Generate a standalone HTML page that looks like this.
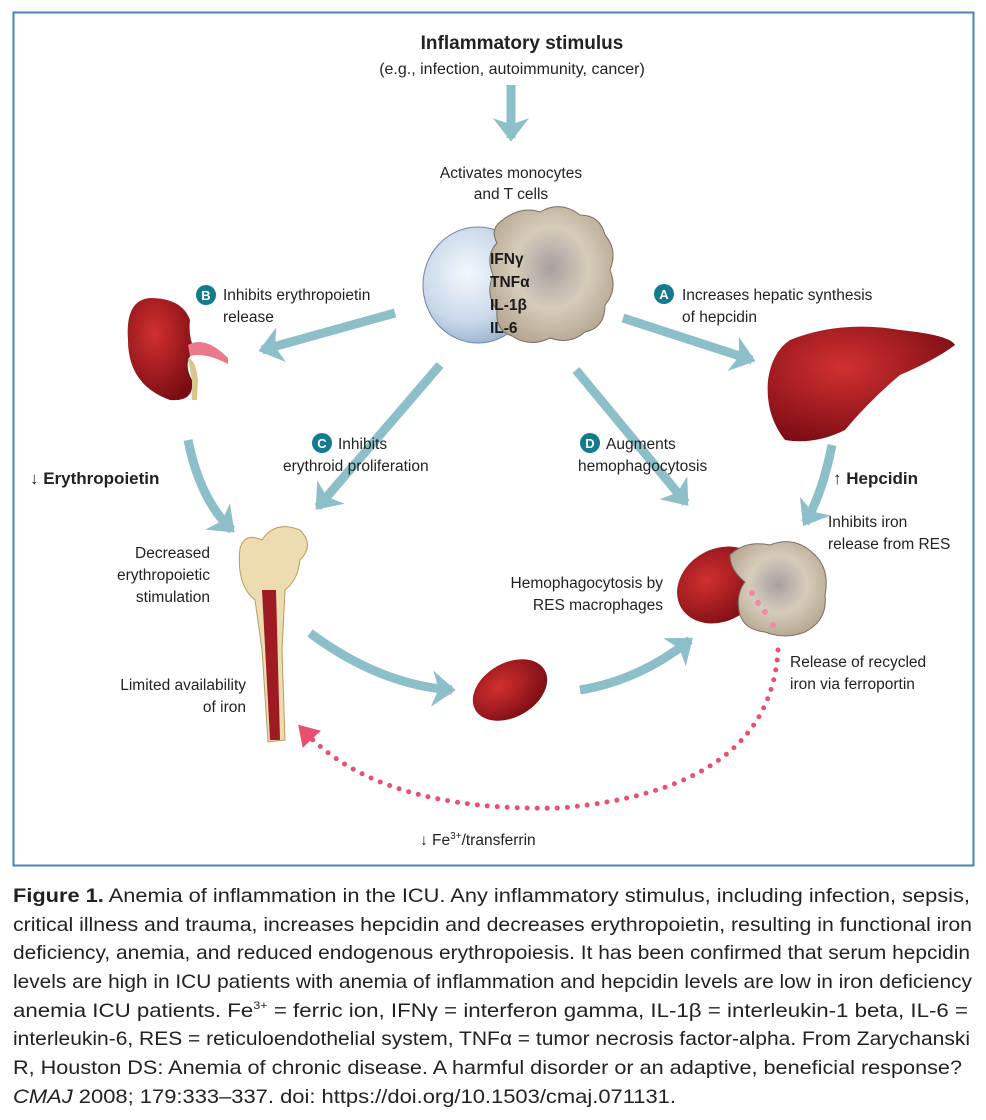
<!DOCTYPE html>
<html><head><meta charset="utf-8"><style>
body{margin:0;background:#fff;width:986px;height:1120px;overflow:hidden;font-family:"Liberation Sans",sans-serif}
svg{position:absolute;left:0;top:0}
</style></head><body>
<svg width="986" height="1120" viewBox="0 0 986 1120" font-family="Liberation Sans, sans-serif">
<defs>
<marker id="ah" markerWidth="4" markerHeight="4" refX="2.2" refY="2" orient="auto" markerUnits="strokeWidth"><path d="M0,0 L2.6,2 L0,4 L0.7,2Z" fill="#8dbfca"/></marker>
<marker id="ph" markerWidth="5" markerHeight="5" refX="2" refY="2.5" orient="auto" markerUnits="strokeWidth"><path d="M0,0 L4,2.5 L0,5Z" fill="#e8506e"/></marker>
<radialGradient id="bl" cx="0.4" cy="0.4" r="0.7"><stop offset="0" stop-color="#f4f8fc"/><stop offset="0.6" stop-color="#c9d8ea"/><stop offset="1" stop-color="#8fa7c6"/></radialGradient>
<radialGradient id="mac" cx="0.5" cy="0.45" r="0.6"><stop offset="0" stop-color="#a8a0a0"/><stop offset="0.5" stop-color="#d6ccbb"/><stop offset="1" stop-color="#b3a58e"/></radialGradient>
<radialGradient id="red" cx="0.4" cy="0.35" r="0.7"><stop offset="0" stop-color="#d23030"/><stop offset="1" stop-color="#7a0c14"/></radialGradient>
</defs>
<rect x="13.5" y="12.5" width="960" height="853" fill="none" stroke="#4e81b4" stroke-width="2"/>
<g fill="#222" text-anchor="middle">
<text x="522" y="49" font-size="19" font-weight="bold">Inflammatory stimulus</text>
<text x="512" y="74" font-size="16">(e.g., infection, autoimmunity, cancer)</text>
<text x="511" y="178" font-size="15.5">Activates monocytes</text>
<text x="511" y="199" font-size="15.5">and T cells</text>
</g>
<g stroke="#8dbfca" stroke-width="9" fill="none" marker-end="url(#ah)">
<line x1="511" y1="85" x2="511" y2="138"/>
<line x1="395" y1="313" x2="262" y2="350"/>
<line x1="623" y1="318" x2="752" y2="360"/>
<line x1="440" y1="365" x2="318" y2="507"/>
<line x1="576" y1="370" x2="686" y2="503"/>
<path d="M188,440 Q200,500 232,530"/>
<path d="M832,445 Q822,495 805,523"/>
<path d="M310,633 Q380,685 452,690"/>
<path d="M580,690 Q640,680 690,640"/>
</g>
<ellipse cx="478" cy="285" rx="55" ry="58" fill="url(#bl)" stroke="#6c86a8"/>
<path d="M500,222 Q520,205 540,212 Q560,200 580,215 Q600,215 605,235 Q618,250 610,270 Q618,290 605,305 Q605,328 585,332 Q570,345 550,338 Q530,348 512,336 Q495,330 497,310 Q485,295 493,275 Q485,255 497,243 Q490,230 500,222Z" fill="url(#mac)" stroke="#7a6f60"/>
<g font-size="15.5" font-weight="bold" fill="#1a1a1a">
<text x="490" y="264">IFNγ</text><text x="490" y="287">TNFα</text><text x="490" y="310">IL-1β</text><text x="490" y="333">IL-6</text>
</g>
<g font-size="15.5" fill="#222">
<circle cx="206" cy="295" r="10" fill="#137b8d"/><text x="206" y="300" text-anchor="middle" fill="#fff" font-size="13" font-weight="bold">B</text>
<text x="223" y="300">Inhibits erythropoietin</text><text x="223" y="322">release</text>
<circle cx="664" cy="294" r="10" fill="#137b8d"/><text x="664" y="299" text-anchor="middle" fill="#fff" font-size="13" font-weight="bold">A</text>
<text x="682" y="300">Increases hepatic synthesis</text><text x="682" y="322">of hepcidin</text>
<circle cx="322" cy="443" r="10" fill="#137b8d"/><text x="322" y="448" text-anchor="middle" fill="#fff" font-size="13" font-weight="bold">C</text>
<text x="338" y="449">Inhibits</text><text x="283" y="471">erythroid proliferation</text>
<circle cx="590" cy="443" r="10" fill="#137b8d"/><text x="590" y="448" text-anchor="middle" fill="#fff" font-size="13" font-weight="bold">D</text>
<text x="606" y="449">Augments</text><text x="578" y="471">hemophagocytosis</text>
<text x="30" y="484" font-size="17" font-weight="bold">↓ Erythropoietin</text>
<text x="833" y="484" font-size="17" font-weight="bold">↑ Hepcidin</text>
<g text-anchor="end"><text x="210" y="558">Decreased</text><text x="210" y="580">erythropoietic</text><text x="210" y="602">stimulation</text>
<text x="246" y="690">Limited availability</text><text x="246" y="712">of iron</text>
<text x="663" y="588">Hemophagocytosis by</text><text x="663" y="610">RES macrophages</text></g>
<text x="828" y="527">Inhibits iron</text><text x="828" y="549">release from RES</text>
<text x="790" y="667">Release of recycled</text><text x="790" y="689">iron via ferroportin</text>
<text x="420" y="845">↓ Fe<tspan font-size="10" dy="-6">3+</tspan><tspan dy="6">/transferrin</tspan></text>
</g>
<path d="M150,298 Q125,300 128,340 Q128,385 170,400 Q195,402 192,380 Q182,362 195,350 Q188,338 190,320 Q182,298 150,298Z" fill="url(#red)"/>
<path d="M188,345 Q205,335 228,358 L228,364 Q205,352 190,356Z" fill="#e87a8a"/>
<path d="M188,358 Q196,360 198,380 L197,400 L192,400 L192,380Z" fill="#d9c68a"/>
<path d="M790,340 Q840,320 900,330 Q950,335 955,345 Q935,360 900,375 Q870,400 845,430 Q815,445 785,440 Q765,415 768,380 Q772,352 790,340Z" fill="url(#red)"/>
<path d="M240,548 Q245,532 262,540 Q275,520 300,530 Q315,545 300,560 Q298,580 285,590 L282,650 L285,740 L268,742 L262,650 L255,600 Q236,585 240,548Z" fill="#ecdcb0" stroke="#b89c60"/>
<path d="M262,590 L276,590 L280,740 L270,740Z" fill="#9e1b23"/>
<ellipse cx="510" cy="690" rx="40" ry="27" transform="rotate(-30 510 690)" fill="url(#red)"/>
<ellipse cx="720" cy="585" rx="45" ry="36" transform="rotate(-30 720 585)" fill="url(#red)"/>
<path d="M730,555 Q745,540 770,545 Q795,535 815,555 Q830,570 825,595 Q828,620 805,632 Q785,640 765,632 Q745,630 740,615 Q735,595 745,582 Q730,570 730,555Z" fill="url(#mac)" stroke="#7a6f60"/>
<path d="M778,650 Q770,790 560,808 Q380,812 305,732" fill="none" stroke="#e8506e" stroke-width="5" stroke-linecap="round" stroke-dasharray="0 10" marker-end="url(#ph)"/>
<g fill="#f08aa0"><circle cx="752" cy="593" r="3"/><circle cx="758" cy="603" r="3"/><circle cx="765" cy="612" r="3"/><circle cx="773" cy="625" r="3"/></g>
<g font-size="19.5" fill="#222">
<text x="13" y="902" textLength="957" lengthAdjust="spacingAndGlyphs"><tspan font-weight="bold">Figure 1.</tspan> Anemia of inflammation in the ICU. Any inflammatory stimulus, including infection, sepsis,</text>
<text x="13" y="931" textLength="959" lengthAdjust="spacingAndGlyphs">critical illness and trauma, increases hepcidin and decreases erythropoietin, resulting in functional iron</text>
<text x="13" y="959" textLength="957" lengthAdjust="spacingAndGlyphs">deficiency, anemia, and reduced endogenous erythropoiesis. It has been confirmed that serum hepcidin</text>
<text x="13" y="988" textLength="959" lengthAdjust="spacingAndGlyphs">levels are high in ICU patients with anemia of inflammation and hepcidin levels are low in iron deficiency</text>
<text x="13" y="1017" textLength="955" lengthAdjust="spacingAndGlyphs">anemia ICU patients. Fe<tspan font-size="11" dy="-8">3+</tspan><tspan dy="8"> = ferric ion, IFNγ = interferon gamma, IL-1β = interleukin-1 beta, IL-6 =</tspan></text>
<text x="13" y="1045" textLength="957" lengthAdjust="spacingAndGlyphs">interleukin-6, RES = reticuloendothelial system, TNFα = tumor necrosis factor-alpha. From Zarychanski</text>
<text x="13" y="1074" textLength="949" lengthAdjust="spacingAndGlyphs">R, Houston DS: Anemia of chronic disease. A harmful disorder or an adaptive, beneficial response?</text>
<text x="13" y="1103" textLength="663" lengthAdjust="spacingAndGlyphs"><tspan font-style="italic">CMAJ</tspan> 2008; 179:333–337. doi: https://doi.org/10.1503/cmaj.071131.</text>
</g>
</svg>
</body></html>
